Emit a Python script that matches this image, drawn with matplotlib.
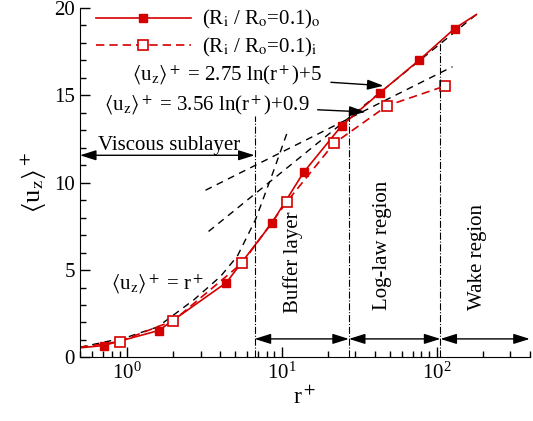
import matplotlib
matplotlib.use("Agg")
import matplotlib.pyplot as plt
import numpy as np

plt.rcParams['font.family'] = ['Liberation Serif', 'DejaVu Serif']
plt.rcParams['mathtext.fontset'] = 'stix'

# Outer wall data (filled squares, solid line)
r_out = [0.5, 0.71, 1.61, 4.40, 8.62, 13.9, 24.4, 42.9, 76.9, 130.7, 181]
u_out = [0.55, 0.68, 1.54, 4.28, 7.67, 10.6, 13.26, 15.13, 17.0, 18.82, 19.63]
r_out_mk = [0.71, 1.61, 4.40, 8.62, 13.9, 24.4, 42.9, 76.9, 130.7]
u_out_mk = [0.68, 1.54, 4.28, 7.67, 10.6, 13.26, 15.13, 17.0, 18.82]

# Inner wall data (open squares, dashed line)
r_in = [0.5, 0.90, 2.0, 5.58, 10.8, 21.8, 48.1, 113]
u_in = [0.58, 0.91, 2.10, 5.41, 8.9, 12.25, 14.41, 15.53]

# reference laws as drawn
r_visc = [0.5, 1.01, 1.58, 2.72, 4.04, 5.18, 6.8, 8.9, 10.8]
u_visc = [0.58, 1.16, 1.74, 3.3, 4.64, 5.79, 7.9, 10.7, 12.8]
r_log_o = [3.38, 181]      # 2.75 ln(r+)+5
u_log_o = [7.21, 19.63]
r_log_i = [3.23, 126.8]    # 3.56 ln(r+)+0.9
u_log_i = [9.57, 16.64]

# region borders
r_borders = [6.7, 27.2, 106]
u_border_top = [13.8, 14.2, 18.25]

red = '#d40000'
fs = 15

fig = plt.figure(figsize=(5.33, 4.21), dpi=100)
ax = fig.add_axes([0.150, 0.151, 0.844, 0.830])

ax.plot(r_visc, u_visc, color='k', lw=1, ls=(0, (5, 4)))
ax.plot(r_log_o, u_log_o, color='k', lw=1, ls=(0, (5, 4)))
ax.plot(r_log_i, u_log_i, color='k', lw=1, ls=(0, (5, 4)))

ax.plot(r_out, u_out, color=red, lw=1.2)
ax.plot(r_out_mk, u_out_mk, ls='none', marker='s', ms=6, color=red)
ax.plot(r_in, u_in, color=red, lw=1.2, ls=(0, (5, 3)))
ax.plot(r_in[1:], u_in[1:], ls='none', marker='s', ms=6.5, mfc='white', mec=red, mew=1.2)

# legend proxies
h1, = ax.plot([], [], color=red, lw=1.2, marker='s', ms=6)
h2, = ax.plot([], [], color=red, lw=1.2, ls=(0, (5, 3)), marker='s', ms=6.5, mfc='white', mec=red, mew=1.2)
leg = ax.legend([h1, h2],
                ['(R$_\\mathrm{i}$ / R$_\\mathrm{o}$=0.1)$_\\mathrm{o}$',
                 '(R$_\\mathrm{i}$ / R$_\\mathrm{o}$=0.1)$_\\mathrm{i}$'],
                loc='upper left', bbox_to_anchor=(0.030, 1.005), frameon=False,
                fontsize=fs, handlelength=4.6, handletextpad=0.5, labelspacing=0.2,
                borderaxespad=0, borderpad=0.1)

for rb, ut in zip(r_borders, u_border_top):
    ax.plot([rb, rb], [0, ut], color='k', lw=0.8, ls='-.')

arr = dict(arrowstyle='<|-|>,head_length=0.7,head_width=0.22', color='k', lw=1,
           mutation_scale=14, shrinkA=0, shrinkB=0)
ax.annotate('', xy=(0.5, 11.57), xytext=(6.7, 11.57), arrowprops=arr)
bounds = [6.7, 27.2, 106, 400]
for a, b in zip(bounds[:-1], bounds[1:]):
    ax.annotate('', xy=(a, 1.06), xytext=(b, 1.06), arrowprops=arr)

ax.text(1.87, 11.9, 'Viscous sublayer', fontsize=fs, ha='center', va='baseline')
ax.text(11.8, 2.56, 'Buffer layer', fontsize=fs, ha='center', va='bottom', rotation=90)
ax.text(44.8, 2.73, 'Log-law region', fontsize=fs, ha='center', va='bottom', rotation=90)
ax.text(184, 2.73, 'Wake region', fontsize=fs, ha='center', va='bottom', rotation=90)

ax.text(0.788, 3.88, r'$\langle$u$_\mathrm{z}\rangle^+$ = r$^+$', fontsize=fs,
        ha='left', va='baseline')
one = dict(arrowstyle='-|>,head_length=0.7,head_width=0.22', color='k', lw=1,
           mutation_scale=14, shrinkA=4, shrinkB=0)
ax.annotate(r'$\langle$u$_\mathrm{z}\rangle^+$ = 2.75 ln(r$^+$)+5', xy=(45.5, 15.55),
            xytext=(18.4, 15.83), fontsize=fs, ha='right', va='baseline',
            arrowprops=one)
ax.annotate(r'$\langle$u$_\mathrm{z}\rangle^+$ = 3.56 ln(r$^+$)+0.9', xy=(34.8, 14.05),
            xytext=(15.1, 14.16), fontsize=fs, ha='right', va='baseline',
            arrowprops=one)

ax.set_xscale('log')
ax.set_xlim(0.5, 400)
ax.set_ylim(0, 20)
ax.set_yticks([0, 5, 10, 15, 20])
ax.set_yticks(np.arange(0, 21, 1), minor=True)
ax.spines['top'].set_visible(False)
ax.spines['right'].set_visible(False)
ax.tick_params(which='both', direction='in', labelsize=15, width=1)
ax.tick_params(which='major', length=7)
ax.tick_params(which='minor', length=4)
ax.set_xlabel(r'r$^+$', fontsize=17, labelpad=2)
ax.set_ylabel(r'$\langle$u$_\mathrm{z}\rangle^+$', fontsize=19, labelpad=4)

fig.savefig('out.png', dpi=100)
